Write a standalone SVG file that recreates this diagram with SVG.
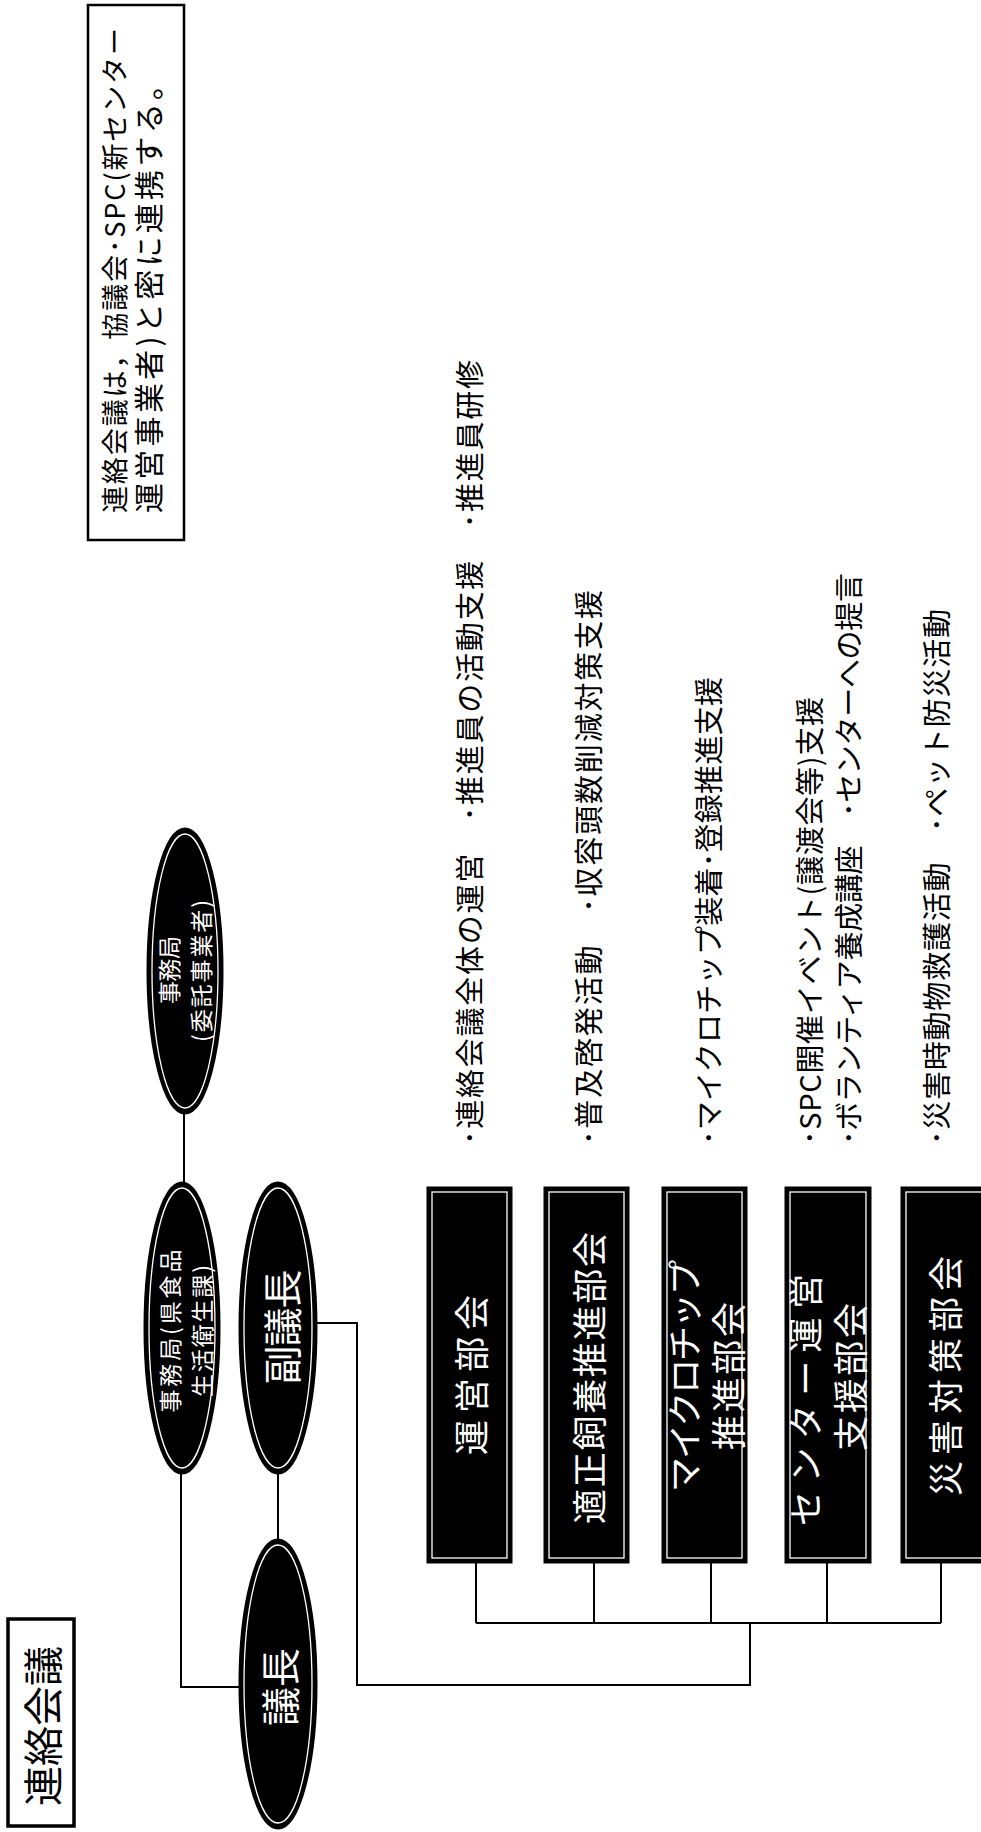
<svg xmlns="http://www.w3.org/2000/svg" width="981" height="1832" viewBox="0 0 981 1832">
<style>
text{font-family:"Noto Sans CJK JP","Noto Sans CJK SC",sans-serif;dominant-baseline:central}
.k{fill:#000}
.conn line,.conn polyline{stroke:#000;stroke-width:2;fill:none}
.shape{fill:#000;stroke:#000;stroke-width:3}
.inner{fill:none;stroke:#fff;stroke-width:1.3}
.lbl{font-size:29px;fill:#000}
.bx{font-size:35px;fill:#fff}
.el{font-size:23px;fill:#fff}
.big{font-size:39px;fill:#fff}
</style>
<rect width="981" height="1832" fill="#fff"/>

<g id="note">
<rect x="88" y="5" width="96" height="535" fill="#fff" stroke="#000" stroke-width="2.5"/>
<text class="k" font-size="27" transform="translate(113,513) rotate(-90)" textLength="485" lengthAdjust="spacing">連絡会議は，協議会･SPC(新センター</text>
<text class="k" font-size="30" transform="translate(147,513) rotate(-90)" textLength="443" lengthAdjust="spacing">運営事業者)と密に連携する。</text>
</g>

<g id="title">
<rect x="8" y="1619" width="66" height="207" fill="#fff" stroke="#000" stroke-width="3.5"/>
<text class="k" font-size="40" text-anchor="middle" transform="translate(41,1726) rotate(-90)">連絡会議</text>
</g>

<g class="conn" id="connectors">
<line x1="184" y1="1113" x2="184" y2="1183"/>
<polyline points="181,1472 181,1687 240,1687"/>
<line x1="278" y1="1472" x2="278" y2="1540"/>
<polyline points="317,1323 357,1323 357,1685 750,1685 750,1623"/>
<line x1="476" y1="1623" x2="941" y2="1623"/>
<line x1="476" y1="1562" x2="476" y2="1623"/>
<line x1="594" y1="1562" x2="594" y2="1623"/>
<line x1="711" y1="1562" x2="711" y2="1623"/>
<line x1="827" y1="1562" x2="827" y2="1623"/>
<line x1="941" y1="1562" x2="941" y2="1623"/>
</g>

<g id="jimukyoku-itaku">
<ellipse class="shape" cx="185" cy="971" rx="37" ry="142"/>
<ellipse class="inner" cx="185" cy="971" rx="33" ry="137"/>
<text class="el" text-anchor="middle" transform="translate(168,970) rotate(-90)" textLength="68" lengthAdjust="spacing">事務局</text>
<text class="el" text-anchor="middle" transform="translate(200,971) rotate(-90)" textLength="142" lengthAdjust="spacing">(委託事業者)</text>
</g>

<g id="jimukyoku-ken">
<ellipse class="shape" cx="182" cy="1328" rx="37" ry="145"/>
<ellipse class="inner" cx="182" cy="1328" rx="33" ry="140"/>
<text class="el" text-anchor="middle" transform="translate(169,1331) rotate(-90)" textLength="163" lengthAdjust="spacing">事務局(県食品</text>
<text class="el" text-anchor="middle" transform="translate(201,1331) rotate(-90)" textLength="132" lengthAdjust="spacing">生活衛生課)</text>
</g>

<g id="fukugicho">
<ellipse class="shape" cx="278" cy="1328" rx="38" ry="145"/>
<ellipse class="inner" cx="278" cy="1328" rx="34" ry="140"/>
<text class="big" text-anchor="middle" transform="translate(280,1327) rotate(-90)" textLength="115" lengthAdjust="spacing">副議長</text>
</g>

<g id="gicho">
<ellipse class="shape" cx="278" cy="1684" rx="38" ry="144"/>
<ellipse class="inner" cx="278" cy="1684" rx="34" ry="139"/>
<text class="big" text-anchor="middle" font-size="41" transform="translate(278,1687) rotate(-90)">議長</text>
</g>

<g id="bukai-unei">
<rect class="shape" x="428" y="1188" width="83" height="374"/>
<rect class="inner" x="432" y="1192" width="75" height="366"/>
<text class="bx" text-anchor="middle" transform="translate(469,1375) rotate(-90)" textLength="160" lengthAdjust="spacing">運営部会</text>
</g>

<g id="bukai-tekisei">
<rect class="shape" x="545" y="1188" width="83" height="374"/>
<rect class="inner" x="549" y="1192" width="75" height="366"/>
<text class="bx" text-anchor="middle" transform="translate(587,1378) rotate(-90)" textLength="292" lengthAdjust="spacing">適正飼養推進部会</text>
</g>

<g id="bukai-microchip">
<rect class="shape" x="663" y="1188" width="83" height="374"/>
<rect class="inner" x="667" y="1192" width="75" height="366"/>
<text class="bx" text-anchor="middle" transform="translate(682,1376) rotate(-90)" textLength="232" lengthAdjust="spacing">マイクロチップ</text>
<text class="bx" text-anchor="middle" transform="translate(726,1376) rotate(-90)" textLength="148" lengthAdjust="spacing">推進部会</text>
</g>

<g id="bukai-center">
<rect class="shape" x="786" y="1188" width="84" height="374"/>
<rect class="inner" x="790" y="1192" width="76" height="366"/>
<text class="bx" text-anchor="middle" transform="translate(803,1400) rotate(-90)" textLength="252" lengthAdjust="spacing">センター運営</text>
<text class="bx" text-anchor="middle" transform="translate(848,1377) rotate(-90)" textLength="148" lengthAdjust="spacing">支援部会</text>
</g>

<g id="bukai-saigai">
<rect class="shape" x="902" y="1188" width="84" height="374"/>
<rect class="inner" x="906" y="1192" width="76" height="366"/>
<text class="bx" text-anchor="middle" transform="translate(943,1376) rotate(-90)" textLength="240" lengthAdjust="spacing">災害対策部会</text>
</g>

<g id="activities">
<text class="lbl" transform="translate(468,1145) rotate(-90)" textLength="785" lengthAdjust="spacing">･連絡会議全体の運営　･推進員の活動支援　･推進員研修</text>
<text class="lbl" transform="translate(587,1145) rotate(-90)" textLength="555" lengthAdjust="spacing">･普及啓発活動　･収容頭数削減対策支援</text>
<text class="lbl" transform="translate(707,1145) rotate(-90)" textLength="468" lengthAdjust="spacing">･マイクロチップ装着･登録推進支援</text>
<text class="lbl" transform="translate(808,1145) rotate(-90)" textLength="448" lengthAdjust="spacing">･SPC開催イベント(譲渡会等)支援</text>
<text class="lbl" transform="translate(847,1145) rotate(-90)" textLength="572" lengthAdjust="spacing">･ボランティア養成講座　･センターへの提言</text>
<text class="lbl" transform="translate(935,1145) rotate(-90)" textLength="536" lengthAdjust="spacing">･災害時動物救護活動　･ペット防災活動</text>
</g>
</svg>
